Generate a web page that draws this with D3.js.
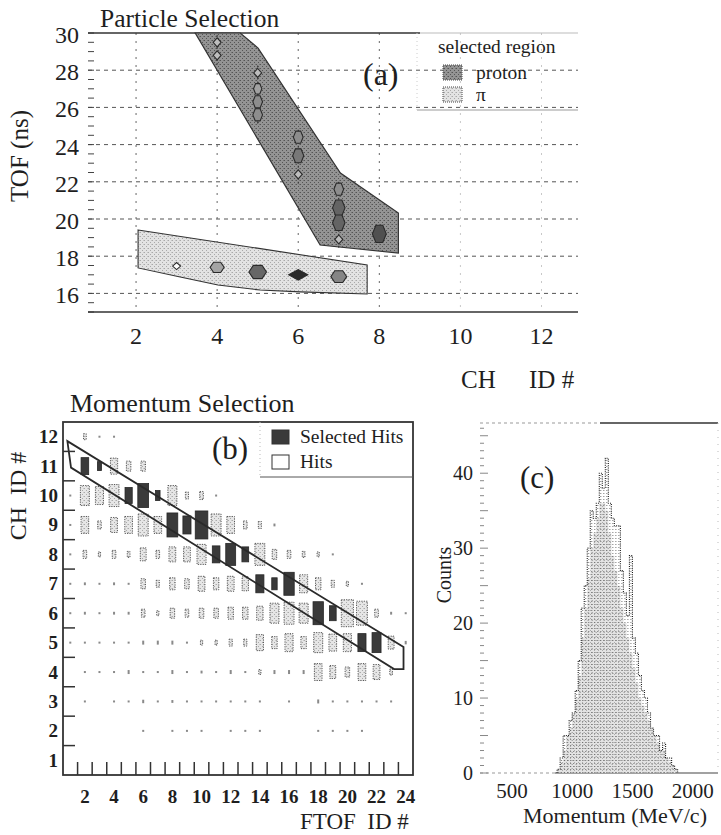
<!DOCTYPE html>
<html><head><meta charset="utf-8">
<script src="https://cdn.jsdelivr.net/npm/d3@7"></script>
<style>
body{margin:0;background:#fff;}
svg text{font-family:"Liberation Serif","Times New Roman",serif;fill:#1e1e1e;}
</style></head><body>
<svg id="chart" width="721" height="835"></svg>
<script>
// ================= DATA =================
// Panel (a): Particle Selection
const aXTicks = [2, 4, 6, 8, 10, 12];
const aYTicks = [16, 18, 20, 22, 24, 26, 28, 30];
const protonRegionCH  = [3.46, 4.57, 5.01, 7.04, 8.47, 8.47, 6.54];
const protonRegionTOF = [30, 30, 29.19, 22.47, 20.32, 18.17, 18.60];
const pionRegionCH  = [2.05, 7.70, 7.70, 6.05, 5.06, 4.02, 3.09, 2.05];
const pionRegionTOF = [19.41, 17.53, 15.97, 16.08, 16.18, 16.45, 16.88, 17.37];
const pionCH  = [3, 4, 5, 6, 7];
const pionTOF = [17.47, 17.4, 17.15, 17.0, 16.9];
const pionN   = [1, 4, 6, 8, 5];
const protonCH  = [4, 4, 5, 5, 5, 5, 6, 6, 6, 7, 7, 7, 7, 8];
const protonTOF = [29.5, 28.8, 27.85, 27.0, 26.3, 25.6, 24.4, 23.4, 22.4, 21.6, 20.6, 19.8, 18.9, 19.2];
const protonN   = [1, 1, 1, 2, 3, 3, 3, 4, 1, 3, 5, 5, 1, 6];
const aLegend = ["proton", "\u03c0"];

// Panel (b): Momentum Selection
const bXLabels = [2, 4, 6, 8, 10, 12, 14, 16, 18, 20, 22, 24];
const bYLabels = [1, 2, 3, 4, 5, 6, 7, 8, 9, 10, 11, 12];
const selFTOF = [2, 3, 5, 6, 7, 8, 9, 10, 11, 12, 13, 14, 15, 16, 18, 19, 21, 22];
const selCH   = [11, 11, 10, 10, 10, 9, 9, 9, 8, 8, 8, 7, 7, 7, 6, 6, 5, 5];
const selN    = [72, 20, 64, 144, 25, 144, 81, 196, 72, 121, 56, 81, 36, 132, 132, 56, 81, 100];
const hitFTOF = [2,3,4, 4,5,6,
  1,2,3,4,8,9,10,11,
  1,2,3,4,5,6,7,11,12,13,14,15,
  1,2,3,4,5,6,7,8,9,10,14,15,16,17,18,19,
  1,2,3,4,5,6,7,8,9,10,11,12,13,17,18,19,20,21,
  1,2,3,4,5,6,7,8,9,10,11,12,13,14,15,16,17,20,21,22,23,24,
  1,2,3,4,5,6,7,8,9,10,11,12,13,14,15,16,17,18,19,20,23,24,
  2,3,4,5,6,7,8,9,10,11,12,13,14,15,16,17,18,19,20,21,22,23,
  2,4,5,6,7,8,9,10,11,12,13,14,16,18,19,20,21,22,23,
  6,8,9,10,12,13,14,18,19,20,21];
const hitCH = [12,12,12, 11,11,11,
  10,10,10,10,10,10,10,10,
  9,9,9,9,9,9,9,9,9,9,9,9,
  8,8,8,8,8,8,8,8,8,8,8,8,8,8,8,8,
  7,7,7,7,7,7,7,7,7,7,7,7,7,7,7,7,7,7,
  6,6,6,6,6,6,6,6,6,6,6,6,6,6,6,6,6,6,6,6,6,6,
  5,5,5,5,5,5,5,5,5,5,5,5,5,5,5,5,5,5,5,5,5,5,
  4,4,4,4,4,4,4,4,4,4,4,4,4,4,4,4,4,4,4,4,4,4,
  3,3,3,3,3,3,3,3,3,3,3,3,3,3,3,3,3,3,3,
  2,2,2,2,2,2,2,2,2,2,2];
const hitN = [9,1,1, 64,25,25,
  1,100,81,121,100,12,16,1,
  1,72,16,56,72,121,72,121,72,16,12,2,
  1,16,6,16,9,42,16,56,56,100,121,25,16,9,6,1,
  1,2,1,2,1,25,12,36,25,56,36,56,49,81,36,12,6,1,
  1,2,1,2,2,16,6,25,16,25,25,36,36,49,100,121,100,182,144,16,2,1,
  1,1,1,1,1,4,4,4,1,6,6,12,12,64,36,81,36,100,72,81,42,3,
  1,1,1,4,1,1,4,1,2,1,4,1,6,4,4,4,72,42,25,72,56,9,
  1,1,1,3,1,2,1,1,1,1,1,1,1,4,1,1,1,1,1,
  1,1,1,1,1,1,1,1,1,1,1];
const cutFTOF = [0.8, 23.85, 23.85, 23.2, 1.05];
const cutCH   = [11.85, 4.85, 4.1, 4.1, 10.95];
const bLegend = ["Selected Hits", "Hits"];

// Panel (c): Momentum histogram
const cXTicks = [500, 1000, 1500, 2000];
const cYTicks = [0, 10, 20, 30, 40];
const momBinStart = [875,900,925,950,975,1000,1025,1050,1075,1100,1125,1150,1175,1200,1225,1250,1275,1300,1325,1350,
  1375,1400,1425,1450,1475,1500,1525,1550,1575,1600,1625,1650,1675,1700,1725,1750,1775,1800,1825,1850];
const momBinWidth = 25;
const grayCounts = [0.5,1.5,3,5,6,8,10,13,18,22,26,30,32,34,36,36,35,32,29,27,
  25,22,20,18,16,14,12,10,9,8,7,6,5,4,3,3,2,1.5,1,0.5];
const darkCounts = [0.5,2,5,5,7,8,11,15,22,25,30,35,34,36,40,38,42,36,34,33,
  33,27,24,21,29,18,16,13,11,10,8,6,5,5,3,4,2,2,1,0.5];

// ================= DRAWING =================
const svg = d3.select("#chart");
const defs = svg.append("defs");
function stipple(id, base, dot) {
  const p = defs.append("pattern").attr("id", id).attr("patternUnits", "userSpaceOnUse")
    .attr("width", 4).attr("height", 4);
  p.append("rect").attr("width", 4).attr("height", 4).attr("fill", base);
  p.append("rect").attr("x", 0).attr("y", 0).attr("width", 1).attr("height", 1).attr("fill", dot);
  p.append("rect").attr("x", 2).attr("y", 2).attr("width", 1).attr("height", 1).attr("fill", dot);
  p.append("rect").attr("x", 3).attr("y", 0).attr("width", 1).attr("height", 1).attr("fill", dot).attr("opacity", 0.5);
}
stipple("protonPat", "#949494", "#555555");
stipple("pionPat", "#e3e3e3", "#a9a9a9");
stipple("hitPat", "#e6e6e6", "#ababab");
stipple("histPat", "#e3e3e3", "#acacac");

// ---------- Panel (a) ----------
const xA = d3.scaleLinear().domain([0.815, 12.9]).range([88, 578]);
const yA = d3.scaleLinear().domain([15, 30]).range([312, 33]);
const gA = svg.append("g");

gA.selectAll(".hg").data(aYTicks.filter(v => v < 30)).join("line")
  .attr("x1", 88).attr("x2", 578).attr("y1", d => yA(d)).attr("y2", d => yA(d))
  .attr("stroke", "#555").attr("stroke-width", 1).attr("stroke-dasharray", "4,4");
gA.selectAll(".vg").data(aXTicks).join("line")
  .attr("x1", d => xA(d)).attr("x2", d => xA(d)).attr("y1", 33).attr("y2", 312)
  .attr("stroke", d => d <= 8 ? "#666" : "#c8c8c8").attr("stroke-width", 1).attr("stroke-dasharray", "2,6");
gA.selectAll(".mt").data(d3.range(15, 30.01, 0.5)).join("line")
  .attr("x1", 88).attr("x2", 94).attr("y1", d => yA(d)).attr("y2", d => yA(d))
  .attr("stroke", "#444").attr("stroke-width", 1);
gA.append("line").attr("x1", 88).attr("x2", 420).attr("y1", 33).attr("y2", 33).attr("stroke", "#333").attr("stroke-width", 1.5);
gA.append("line").attr("x1", 420).attr("x2", 578).attr("y1", 33).attr("y2", 33).attr("stroke", "#bbb").attr("stroke-width", 1);
gA.append("line").attr("x1", 88).attr("x2", 578).attr("y1", 312).attr("y2", 312).attr("stroke", "#333").attr("stroke-width", 1.5);

const protonPts = protonRegionCH.map((c, i) => [xA(c), yA(protonRegionTOF[i])]);
gA.append("path").attr("d", d3.line()(protonPts) + "Z")
  .attr("fill", "url(#protonPat)").attr("stroke", "#333").attr("stroke-width", 1.2);
const pionPts = pionRegionCH.map((c, i) => [xA(c), yA(pionRegionTOF[i])]);
gA.append("path").attr("d", d3.line()(pionPts) + "Z")
  .attr("fill", "url(#pionPat)").attr("stroke", "#333").attr("stroke-width", 1.1);

const protonCols = d3.groups(protonCH.map((c, i) => ({c, t: protonTOF[i]})), d => d.c);
gA.selectAll(".eb").data(protonCols).join("line")
  .attr("x1", d => xA(d[0])).attr("x2", d => xA(d[0]))
  .attr("y1", d => yA(Math.min(30, d3.max(d[1], e => e.t) + 0.4)))
  .attr("y2", d => yA(d3.min(d[1], e => e.t) - 0.5))
  .attr("stroke", "#333").attr("stroke-width", 1).attr("stroke-dasharray", "2,2");

const nScale = d3.scaleLinear().domain([1, 8]).range([7, 19]);
const shadeP = d3.scaleLinear().domain([1, 6]).range(["#b5b5b5", "#505050"]);
function lozenge(w, h) {
  return `M${-w/2},0 L${-w/4},${-h/2} L${w/4},${-h/2} L${w/2},0 L${w/4},${h/2} L${-w/4},${h/2} Z`;
}
function diamond(w, h) {
  return `M${-w/2},0 L0,${-h/2} L${w/2},0 L0,${h/2} Z`;
}
gA.selectAll(".pm").data(protonCH.map((c, i) => ({c, t: protonTOF[i], n: protonN[i]}))).join("path")
  .attr("transform", d => `translate(${xA(d.c)},${yA(d.t)})`)
  .attr("d", d => d.n <= 1 ? diamond(8, 9) : lozenge(nScale(d.n + 1) * 0.8, nScale(d.n + 1)))
  .attr("fill", d => d.n <= 1 ? "#bdbdbd" : shadeP(d.n)).attr("stroke", "#2a2a2a").attr("stroke-width", 1.1);
const shadePi = d3.scaleLinear().domain([1, 8]).range(["#ffffff", "#2a2a2a"]);
gA.selectAll(".pim").data(pionCH.map((c, i) => ({c, t: pionTOF[i], n: pionN[i]}))).join("path")
  .attr("transform", d => `translate(${xA(d.c)},${yA(d.t)})`)
  .attr("d", d => d.n >= 7 ? diamond(nScale(d.n), nScale(d.n) * 0.55)
                 : (d.n <= 1 ? diamond(8, 7) : lozenge(nScale(d.n) + 2, nScale(d.n) * 0.85)))
  .attr("fill", d => shadePi(d.n)).attr("stroke", "#2a2a2a").attr("stroke-width", 1.1);

gA.selectAll(".yl").data(aYTicks).join("text")
  .attr("x", 79).attr("y", d => yA(d) + 10).attr("text-anchor", "end")
  .attr("font-size", 24).text(d => d);
gA.selectAll(".xl").data(aXTicks).join("text")
  .attr("x", d => xA(d)).attr("y", 344).attr("text-anchor", "middle")
  .attr("font-size", 24).text(d => d);
gA.append("text").attr("x", 100).attr("y", 27).attr("font-size", 25.5).text("Particle Selection");
gA.append("text").attr("transform", "translate(28,156) rotate(-90)").attr("text-anchor", "middle")
  .attr("font-size", 25).text("TOF (ns)");
gA.append("text").attr("x", 461).attr("y", 388).attr("font-size", 25).text("CH");
gA.append("text").attr("x", 529).attr("y", 388).attr("font-size", 25).text("ID #");
gA.append("text").attr("x", 363).attr("y", 85).attr("font-size", 32).text("(a)");
gA.append("line").attr("x1", 417).attr("x2", 578).attr("y1", 110).attr("y2", 110).attr("stroke", "#999").attr("stroke-width", 1);
gA.append("line").attr("x1", 417).attr("x2", 417).attr("y1", 33).attr("y2", 110).attr("stroke", "#ccc").attr("stroke-width", 1).attr("stroke-dasharray", "1,3");
gA.append("text").attr("x", 438).attr("y", 53).attr("font-size", 19.5).text("selected region");
gA.selectAll(".lg").data(aLegend).join("rect")
  .attr("x", 443).attr("y", (d, i) => 65 + i * 22).attr("width", 19).attr("height", 15)
  .attr("fill", (d, i) => i === 0 ? "url(#protonPat)" : "url(#pionPat)")
  .attr("stroke", "#444").attr("stroke-width", 1).attr("stroke-dasharray", "1,1");
gA.selectAll(".lt").data(aLegend).join("text")
  .attr("x", 476).attr("y", (d, i) => 79 + i * 22).attr("font-size", 19.5).text(d => d);

// ---------- Panel (b) ----------
const xB = d3.scaleLinear().domain([0.5, 24.5]).range([63, 413]);
const yB = d3.scaleLinear().domain([0.5, 12.5]).range([775, 422]);
const hS = d3.scaleSqrt().domain([0, 196]).range([0, 28]);
const gB = svg.append("g");

const hits = hitFTOF.map((f, i) => ({f, c: hitCH[i], n: hitN[i]}));
gB.selectAll(".hit").data(hits).join("rect")
  .attr("x", d => xB(d.f) - Math.max(2, hS(d.n) * 0.45) / 2)
  .attr("y", d => yB(d.c) - Math.max(2, hS(d.n)) / 2)
  .attr("width", d => Math.max(2, hS(d.n) * 0.45))
  .attr("height", d => Math.max(2, hS(d.n)))
  .attr("fill", d => d.n <= 4 ? "#8a8a8a" : "url(#hitPat)")
  .attr("stroke", d => d.n <= 4 ? "none" : "#555")
  .attr("stroke-width", 1).attr("stroke-dasharray", "1.2,1.2");
const sel = selFTOF.map((f, i) => ({f, c: selCH[i], n: selN[i]}));
gB.selectAll(".sel").data(sel).join("rect")
  .attr("x", d => xB(d.f) - hS(d.n) * 0.45 / 2)
  .attr("y", d => yB(d.c) - hS(d.n) / 2)
  .attr("width", d => hS(d.n) * 0.45)
  .attr("height", d => hS(d.n))
  .attr("fill", "#3a3a3a").attr("stroke", "#262626").attr("stroke-width", 0.8);
const cutPts = cutFTOF.map((f, i) => [xB(f), yB(cutCH[i])]);
gB.append("path").attr("d", d3.line()(cutPts) + "Z")
  .attr("fill", "none").attr("stroke", "#2a2a2a").attr("stroke-width", 1.8).attr("stroke-linejoin", "miter");
gB.append("rect").attr("x", 63).attr("y", 422).attr("width", 350).attr("height", 353)
  .attr("fill", "none").attr("stroke", "#333").attr("stroke-width", 1.8);
gB.selectAll(".xt").data(d3.range(1.5, 24, 1)).join("line")
  .attr("x1", d => xB(d)).attr("x2", d => xB(d)).attr("y1", 775).attr("y2", 762)
  .attr("stroke", "#333").attr("stroke-width", 1.5);
gB.selectAll(".yt").data(d3.range(1.5, 12, 1)).join("line")
  .attr("x1", 63).attr("x2", 75).attr("y1", d => yB(d)).attr("y2", d => yB(d))
  .attr("stroke", "#333").attr("stroke-width", 1.5);
gB.selectAll(".xl").data(bXLabels).join("text")
  .attr("x", d => xB(d)).attr("y", 803).attr("text-anchor", "middle")
  .attr("font-size", 19).attr("font-weight", "bold").text(d => d);
gB.selectAll(".yl").data(bYLabels).join("text")
  .attr("x", 58).attr("y", d => yB(d) + 6.5).attr("text-anchor", "end")
  .attr("font-size", 19).attr("font-weight", "bold").text(d => d);
gB.append("text").attr("x", 70).attr("y", 412).attr("font-size", 26).text("Momentum Selection");
gB.append("text").attr("transform", "translate(26,496) rotate(-90)").attr("text-anchor", "middle")
  .attr("font-size", 24).style("white-space", "pre").text("CH  ID #");
gB.append("text").attr("x", 300).attr("y", 829).attr("font-size", 23)
  .style("white-space", "pre").text("FTOF  ID #");
gB.append("text").attr("x", 212).attr("y", 459).attr("font-size", 31).text("(b)");
gB.append("line").attr("x1", 260).attr("x2", 413).attr("y1", 477).attr("y2", 477).attr("stroke", "#555").attr("stroke-width", 1);
gB.append("line").attr("x1", 260).attr("x2", 260).attr("y1", 422).attr("y2", 477).attr("stroke", "#bbb").attr("stroke-width", 1).attr("stroke-dasharray", "1,3");
gB.selectAll(".lb").data(bLegend).join("rect")
  .attr("x", 272).attr("y", (d, i) => 430 + i * 25).attr("width", 17).attr("height", 14)
  .attr("fill", (d, i) => i === 0 ? "#3a3a3a" : "#fff").attr("stroke", "#333").attr("stroke-width", 1);
gB.selectAll(".lbt").data(bLegend).join("text")
  .attr("x", 300).attr("y", (d, i) => 443 + i * 25).attr("font-size", 19.5).text(d => d);

// ---------- Panel (c) ----------
const xC = d3.scaleLinear().domain([235, 2210]).range([480, 718]);
const yC = d3.scaleLinear().domain([0, 46.7]).range([773, 423]);
const gC = svg.append("g");
gC.append("line").attr("x1", 480).attr("x2", 600).attr("y1", 423).attr("y2", 423).attr("stroke", "#999").attr("stroke-width", 1).attr("stroke-dasharray", "3,3");
gC.append("line").attr("x1", 600).attr("x2", 718).attr("y1", 423).attr("y2", 423).attr("stroke", "#333").attr("stroke-width", 1.3);
gC.append("line").attr("x1", 718).attr("x2", 718).attr("y1", 423).attr("y2", 773).attr("stroke", "#bbb").attr("stroke-width", 1).attr("stroke-dasharray", "1,6");
gC.append("line").attr("x1", 480).attr("x2", 555).attr("y1", 773).attr("y2", 773).attr("stroke", "#999").attr("stroke-width", 1).attr("stroke-dasharray", "3,3");
gC.append("line").attr("x1", 555).attr("x2", 718).attr("y1", 773).attr("y2", 773).attr("stroke", "#444").attr("stroke-width", 1.2);
gC.selectAll(".mt").data(d3.range(0, 47, 1)).join("line")
  .attr("x1", 480).attr("x2", d => d % 5 === 0 ? 488 : 484)
  .attr("y1", d => yC(d)).attr("y2", d => yC(d))
  .attr("stroke", "#888").attr("stroke-width", 1);

const areaC = d3.area().curve(d3.curveStepAfter)
  .x(d => xC(d[0])).y0(yC(0)).y1(d => yC(d[1]));
const grayPts = momBinStart.map((m, i) => [m, grayCounts[i]]);
grayPts.push([momBinStart[momBinStart.length - 1] + momBinWidth, 0]);
gC.append("path").attr("d", areaC(grayPts)).attr("fill", "url(#histPat)").attr("stroke", "none");
const darkPts = momBinStart.map((m, i) => [m, darkCounts[i]]);
darkPts.push([momBinStart[momBinStart.length - 1] + momBinWidth, 0]);
const lineC = d3.line().curve(d3.curveStepAfter).x(d => xC(d[0])).y(d => yC(d[1]));
gC.append("path").attr("d", lineC([[momBinStart[0], 0], ...darkPts]))
  .attr("fill", "none").attr("stroke", "#1a1a1a").attr("stroke-width", 1.1).attr("stroke-dasharray", "1,1.2");
gC.selectAll(".bar").data(momBinStart.map((m, i) => ({m, v: darkCounts[i]}))).join("line")
  .attr("x1", d => xC(d.m + momBinWidth / 2)).attr("x2", d => xC(d.m + momBinWidth / 2))
  .attr("y1", yC(0)).attr("y2", d => yC(d.v))
  .attr("stroke", "#444").attr("stroke-width", 0.9).attr("stroke-dasharray", "1,2").attr("opacity", 0.8);

gC.selectAll(".xl").data(cXTicks).join("text")
  .attr("x", d => xC(d)).attr("y", 798).attr("text-anchor", "middle")
  .attr("font-size", 21).text(d => d);
gC.selectAll(".yl").data(cYTicks).join("text")
  .attr("x", 473).attr("y", d => yC(d) + 7).attr("text-anchor", "end")
  .attr("font-size", 20).text(d => d);
gC.append("text").attr("transform", "translate(451,575) rotate(-90)").attr("text-anchor", "middle")
  .attr("font-size", 20).text("Counts");
gC.append("text").attr("x", 615).attr("y", 823).attr("text-anchor", "middle")
  .attr("font-size", 22).text("Momentum (MeV/c)");
gC.append("text").attr("x", 520).attr("y", 488).attr("font-size", 31).text("(c)");
</script>
</body></html>
